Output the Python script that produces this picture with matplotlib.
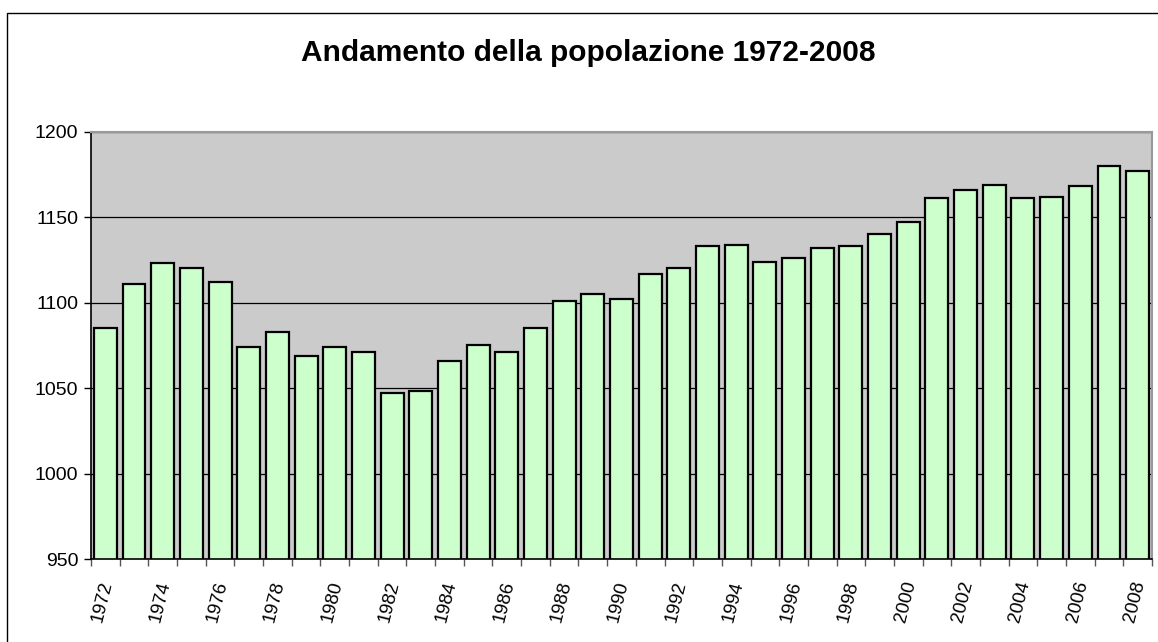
import matplotlib.pyplot as plt
import numpy as np
from matplotlib.patches import Rectangle

years = list(range(1972, 2009))
population = [1085, 1111, 1123, 1120, 1112, 1074, 1083, 1069, 1074, 1071,
              1047, 1048, 1066, 1075, 1071, 1085, 1101, 1105, 1102, 1117,
              1120, 1133, 1134, 1124, 1126, 1132, 1133, 1140, 1147, 1161,
              1166, 1169, 1161, 1162, 1168, 1180, 1177]
title = "Andamento della popolazione 1972-2008"
yticks = [950, 1000, 1050, 1100, 1150, 1200]

plt.rcParams["font.family"] = ["Liberation Sans", "DejaVu Sans"]

W, H = 1158, 642
fig = plt.figure(figsize=(W / 100, H / 100), dpi=100)
ax = fig.add_axes([91 / W, 1 - 559 / H, (1152 - 91) / W, (559 - 131.7) / H])

# outer chart frame
fig.patches.append(Rectangle((7 / W, -0.05), 1.2, 1 - 13 / H + 0.05,
                             transform=fig.transFigure, fill=False,
                             edgecolor="black", lw=1.0))

x = np.arange(len(years))
ax.set_facecolor("#cbcbcb")
ax.bar(x, population, width=0.8, color="#ccffcc", edgecolor="black",
       linewidth=1.6, zorder=3)

ax.set_ylim(950, 1200)
ax.set_xlim(-0.5, len(years) - 0.5)
ax.set_yticks(yticks)
ax.set_yticklabels([str(v) for v in yticks], fontsize=14)
ax.yaxis.grid(True, color="black", lw=0.9, zorder=1)

# ticks at category boundaries, labels every second year
ax.set_xticks(np.arange(-0.5, len(years) + 0.5, 1.0))
ax.set_xticklabels([])
ax.tick_params(axis="x", direction="out", length=5, width=1, color="#555555")
ax.tick_params(axis="y", direction="out", length=5, width=1, color="black", pad=4)
for i, yr in enumerate(years):
    if yr % 2 == 0:
        ax.text(i + 0.08, 950 - 13, str(yr), rotation=76, rotation_mode="anchor",
                ha="right", va="center", fontsize=13.5,
                transform=ax.transData, clip_on=False)

for side in ["top", "right"]:
    ax.spines[side].set_color("#999999")
    ax.spines[side].set_linewidth(1.5)
for side in ["left", "bottom"]:
    ax.spines[side].set_color("black")
    ax.spines[side].set_linewidth(1.2)
ax.spines["bottom"].set_zorder(4)

fig.text(588 / W, 1 - 53 / H, title, ha="center", va="center",
         fontsize=21.5, fontweight="bold")

fig.savefig("out.png", dpi=100)
